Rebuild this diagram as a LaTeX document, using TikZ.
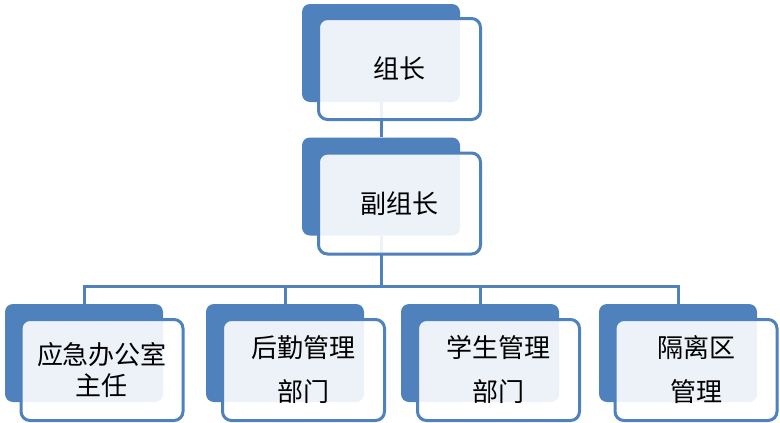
\documentclass[tikz,border=0pt]{standalone}
\usepackage{fontspec}
\newfontfamily\cjk{Noto Sans CJK SC}
\definecolor{accent}{HTML}{4F81BD}
\begin{document}
\begin{tikzpicture}[x=1pt,y=-1pt,
  back/.style={rectangle, rounded corners=8pt, fill=accent, draw=none,
    minimum width=158pt, minimum height=98pt, inner sep=0pt},
  front/.style={rectangle, rounded corners=9pt, fill=white, fill opacity=0.9,
    draw=accent, draw opacity=1, line width=3pt, text opacity=1, text=black,
    minimum width=162pt, minimum height=101pt, inner sep=0pt,
    align=center, font=\cjk\fontsize{26}{44}\selectfont},
  link/.style={draw=accent, line width=3pt}]
\useasboundingbox[fill=white] (0,0) rectangle (780,423);
% back boxes
\node[back] (k0) at (381,53) {};
\node[back] (k1) at (381,186.5) {};
\node[back] (b1) at (84,353) {};
\node[back] (b2) at (285,353) {};
\node[back] (b3) at (480,353) {};
\node[back] (b4) at (678,353) {};
% connectors
\coordinate (bus) at (381,286);
\draw[link] (k0.south) -- (k1.north);
\draw[link] (k1.south) -- (bus);
\draw[link] (b1.north) -- (b1.north |- bus) -- (b4.north |- bus) -- (b4.north);
\draw[link] (b2.north |- bus) -- (b2.north);
\draw[link] (b3.north |- bus) -- (b3.north);
% front boxes
\node[front] (f0) at (399.5,69) {组长};
\node[front] (f1) at (399.5,203.5) {副组长};
\node[front, font=\cjk\fontsize{26}{31}\selectfont] (g1) at (102,370) {应急办公室\\主任};
\node[front] (g2) at (303.5,370) {后勤管理\\部门};
\node[front] (g3) at (498.5,370) {学生管理\\部门};
\node[front] (g4) at (696,370) {隔离区\\管理};
\end{tikzpicture}
\end{document}
